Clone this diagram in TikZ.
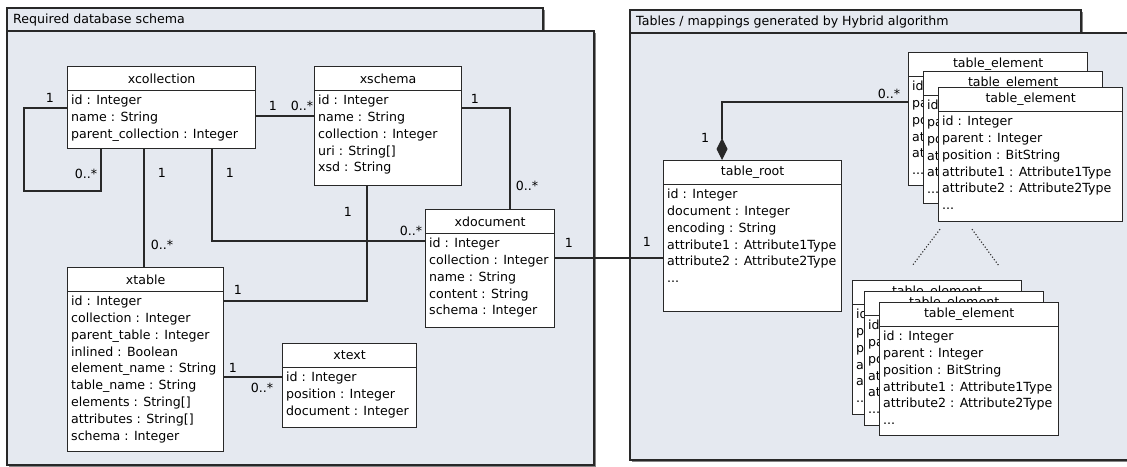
\documentclass[tikz,border=0pt]{standalone}
\usepackage{fontspec}
\setmainfont{DejaVu Sans}
\usetikzlibrary{arrows.meta,shadows}
\definecolor{pkgfill}{RGB}{229,233,240}
\definecolor{ln}{RGB}{40,40,40}
\tikzset{
  pkg/.style={draw=ln, fill=pkgfill, line width=1.2pt,
    drop shadow={shadow xshift=1.5pt, shadow yshift=-1.5pt, fill=black!60, opacity=0.8}},
  clsbox/.style={draw=ln, fill=white, line width=1.2pt, inner sep=0pt, anchor=north west},
  clshead/.style={draw=ln, fill=white, line width=1.2pt, inner sep=0pt, minimum height=24pt, anchor=north west},
  clsattr/.style={inner sep=0pt, align=left, anchor=north west},
  assoc/.style={draw=ln, line width=1.1pt},
  mult/.style={inner sep=0pt},
  dotlink/.style={draw=ln, line width=1.1pt, dotted}
}
\newcommand{\umlclass}[7]{%
  \node[clsbox, minimum width=#4pt, minimum height=#5pt] (#1) at (#2,#3) {};
  \node[clshead, minimum width=#4pt] (#1-h) at (#1.north west) {#6};
  \node[clsattr] (#1-a) at ([shift={(4,29)}]#1.north west) {#7};
}
\begin{document}
\begin{tikzpicture}[x=1pt, y=-1pt, font=\fontsize{12.6}{16.8}\selectfont]
\useasboundingbox (0,0) rectangle (1127,466);
% packages
\path[pkg] (7,8) rectangle (543,31);
\path[pkg] (7,31) rectangle (594,465);
\node[anchor=base west, inner sep=0pt] (pkgL) at (13,23.5) {Required database schema};
\path[pkg] (630,10) rectangle (1081,33);
\path[pkg] (630,33) rectangle (1140,460);
\node[anchor=base west, inner sep=0pt] (pkgR) at (636,25) {Tables / mappings generated by Hybrid algorithm};

% left classes
\umlclass{xcoll}{67}{66}{188}{82}{xcollection}{id : Integer\\name : String\\parent\_collection : Integer}
\umlclass{xschema}{314}{66}{147}{119}{xschema}{id : Integer\\name : String\\collection : Integer\\uri : String[]\\xsd : String}
\umlclass{xdoc}{425}{209}{129}{118}{xdocument}{id : Integer\\collection : Integer\\name : String\\content : String\\schema : Integer}
\umlclass{xtable}{67}{267}{156}{184}{xtable}{id : Integer\\collection : Integer\\parent\_table : Integer\\inlined : Boolean\\element\_name : String\\table\_name : String\\elements : String[]\\attributes : String[]\\schema : Integer}
\umlclass{xtext}{282}{343}{134}{84}{xtext}{id : Integer\\position : Integer\\document : Integer}

% right classes
\umlclass{troot}{663}{160}{178}{151}{table\_root}{id : Integer\\document : Integer\\encoding : String\\attribute1 : Attribute1Type\\attribute2 : Attribute2Type\\...}
\umlclass{teA}{908}{52}{179}{133}{table\_element}{id : Integer\\parent : Integer\\position : BitString\\attribute1 : Attribute1Type\\attribute2 : Attribute2Type\\...}
\umlclass{teB}{923}{71}{179}{132}{table\_element}{id : Integer\\parent : Integer\\position : BitString\\attribute1 : Attribute1Type\\attribute2 : Attribute2Type\\...}
\umlclass{teC}{938}{87}{184}{134}{table\_element}{id : Integer\\parent : Integer\\position : BitString\\attribute1 : Attribute1Type\\attribute2 : Attribute2Type\\...}
\umlclass{tbA}{852}{280}{169}{134}{table\_element}{id : Integer\\parent : Integer\\position : BitString\\attribute1 : Attribute1Type\\attribute2 : Attribute2Type\\...}
\umlclass{tbB}{864}{291}{179}{134}{table\_element}{id : Integer\\parent : Integer\\position : BitString\\attribute1 : Attribute1Type\\attribute2 : Attribute2Type\\...}
\umlclass{tbC}{879}{302}{179}{133}{table\_element}{id : Integer\\parent : Integer\\position : BitString\\attribute1 : Attribute1Type\\attribute2 : Attribute2Type\\...}

% connectors (left)
\draw[assoc] ([shift={(0,42)}]xcoll.north west) -- ++(-43,0) -- ++(0,83) -| ([shift={(34,0)}]xcoll.south west);
\draw[assoc] ([shift={(0,50)}]xcoll.north east) -- ([shift={(0,50)}]xschema.north west);
\draw[assoc] ([shift={(77,0)}]xcoll.south west) -- ([shift={(77,0)}]xtable.north west);
\draw[assoc] ([shift={(145,0)}]xcoll.south west) |- ([shift={(0,32)}]xdoc.north west);
\draw[assoc] ([shift={(53,0)}]xschema.south west) |- ([shift={(0,34)}]xtable.north east);
\draw[assoc] ([shift={(0,42)}]xschema.north east) -| ([shift={(85,0)}]xdoc.north west);
\draw[assoc] ([shift={(0,110)}]xtable.north east) -- ([shift={(0,34)}]xtext.north west);
\draw[assoc] ([shift={(0,49)}]xdoc.north east) -- ([shift={(0,98)}]troot.north west);
% connectors (right)
\draw[assoc, {Diamond[length=22pt, width=11pt]}-] ([shift={(59,0)}]troot.north west) |- ([shift={(0,50)}]teA.north west);
\coordinate (dA1) at ([shift={(2,7)}]teC.south west);
\coordinate (dA2) at ([shift={(60,-14)}]tbA.north west);
\coordinate (dB1) at ([shift={(34,7)}]teC.south west);
\coordinate (dB2) at ([shift={(147,-14)}]tbA.north west);
\draw[dotlink] (dA1) -- (dA2);
\draw[dotlink] (dB1) -- (dB2);

% multiplicities
\node[mult] (m1) at (50,98) {1};
\node[mult] (m2) at (86,174) {0..*};
\node[mult] (m3) at (162,173) {1};
\node[mult] (m4) at (230,173) {1};
\node[mult] (m5) at (273,106) {1};
\node[mult] (m6) at (302,106) {0..*};
\node[mult] (m7) at (162,245) {0..*};
\node[mult] (m8) at (475,99) {1};
\node[mult] (m9) at (527,186) {0..*};
\node[mult] (m10) at (348,212) {1};
\node[mult] (m11) at (411,231) {0..*};
\node[mult] (m12) at (238,290) {1};
\node[mult] (m13) at (569,243) {1};
\node[mult] (m14) at (647,242) {1};
\node[mult] (m15) at (233,368) {1};
\node[mult] (m16) at (262,388) {0..*};
\node[mult] (m17) at (705,138) {1};
\node[mult] (m18) at (889,94) {0..*};
\end{tikzpicture}
\end{document}
